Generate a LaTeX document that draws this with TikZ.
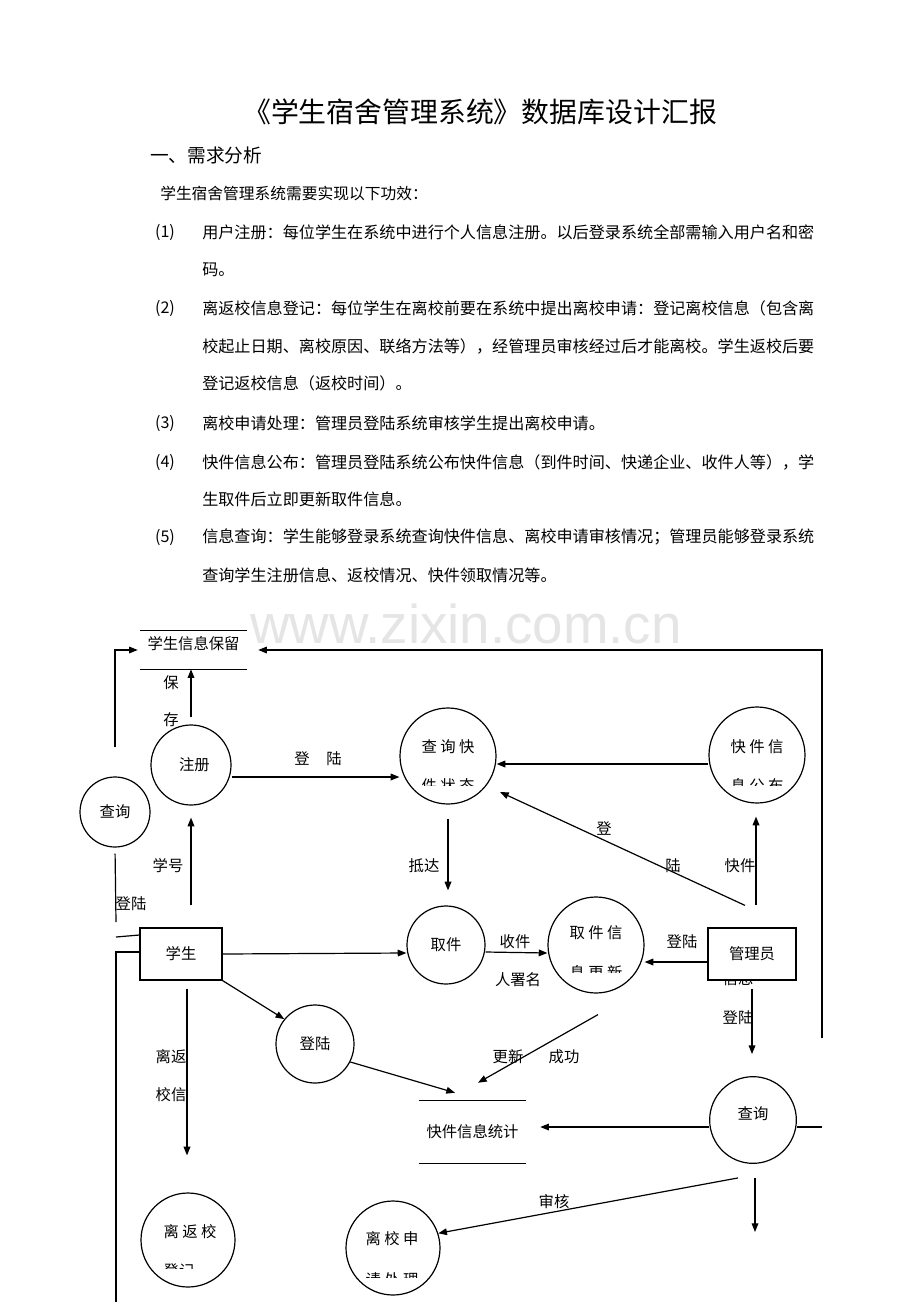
\documentclass[tikz,border=0pt]{standalone}
\usepackage{fontspec}
\setmainfont{Noto Sans CJK SC}
\newfontfamily\wmfont{Liberation Sans}
\usetikzlibrary{arrows.meta}
\XeTeXlinebreaklocale "zh"
\XeTeXlinebreakskip=0pt plus 1pt minus 0.5pt
\newcommand{\fullline}[1]{\makebox[459pt][s]{#1}}
\tikzset{
  txt/.style={anchor=west, inner sep=0pt, font=\fontsize{12.08}{14}\selectfont},
  proc/.style={draw, circle, inner sep=0pt, line width=0.9pt, font=\fontsize{11.5}{13}\selectfont},
  ent/.style={draw, fill=white, rectangle, inner sep=0pt, line width=0.9pt, minimum height=39pt, font=\fontsize{11.5}{13}\selectfont},
  store/.style={inner sep=0pt, minimum width=80.25pt, font=\fontsize{11.5}{13}\selectfont},
  lbl/.style={inner sep=0pt, font=\fontsize{11.5}{13}\selectfont},
  arr/.style={-{Triangle[length=6.5pt,width=5pt]}, line width=0.9pt},
  wm/.style={inner sep=0pt, text=black!10, font=\wmfont\fontsize{41}{45}\selectfont},
}
\begin{document}
\begin{tikzpicture}[x=0.75pt,y=-0.75pt]
\useasboundingbox (0,0) rectangle (920,1302);
\fill[white] (0,0) rectangle (920,1302);

% watermark
\node[wm, anchor=base west] (wmark) at (250,643) {www.zixin.com.cn};

% heading and text
\node[inner sep=0pt, font=\fontsize{20.9}{24}\selectfont] (title) at (480,112) {《学生宿舍管理系统》数据库设计汇报};
\node[txt, font=\fontsize{14}{16}\selectfont] (sec1) at (150,155) {一、需求分析};
\node[txt, font=\fontsize{11.8}{14}\selectfont] (intro) at (160,193) {学生宿舍管理系统需要实现以下功效：};
\foreach \n/\y in {1/232, 2/308, 3/423, 4/462, 5/537}{
  \node[inner sep=0pt, font=\fontsize{12.08}{14}\selectfont] (num\n) at (165,\y) {(\n)};
}
\node[txt] (l1a) at (202,232) {\fullline{用户注册：每位学生在系统中进行个人信息注册。以后登录系统全部需输入用户名和密}};
\node[txt] (l1b) at (202,270) {码。};
\node[txt] (l2a) at (202,308) {\fullline{离返校信息登记：每位学生在离校前要在系统中提出离校申请：登记离校信息（包含离}};
\node[txt] (l2b) at (202,346) {\fullline{校起止日期、离校原因、联络方法等），经管理员审核经过后才能离校。学生返校后要}};
\node[txt] (l2c) at (202,383) {登记返校信息（返校时间）。};
\node[txt] (l3) at (202,423) {离校申请处理：管理员登陆系统审核学生提出离校申请。};
\node[txt] (l4a) at (202,462) {\fullline{快件信息公布：管理员登陆系统公布快件信息（到件时间、快递企业、收件人等），学}};
\node[txt] (l4b) at (202,499) {生取件后立即更新取件信息。};
\node[txt] (l5a) at (202,537) {\fullline{信息查询：学生能够登录系统查询快件信息、离校申请审核情况；管理员能够登录系统}};
\node[txt] (l5b) at (202,575) {查询学生注册信息、返校情况、快件领取情况等。};

% data stores
\node[store, minimum height=28.5pt, text height=8pt, text depth=9pt] (store1) at (193.5,650) {学生信息保留};
\node[store, minimum height=46.5pt] (tj) at (472.5,1132) {快件信息统计};
\draw[line width=0.8pt] (store1.north west) -- (store1.north east) (store1.south west) -- (store1.south east);
\draw[line width=0.8pt] (tj.north west) -- (tj.north east) (tj.south west) -- (tj.south east);

% processes
\node[proc, minimum size=60pt] (zc) at (191,765) {\hspace{5pt}注册};
\node[proc, minimum size=72pt] (cx) at (448,756) {};
\node[proc, minimum size=72pt] (kg) at (757,755) {};
\node[proc, minimum size=52.5pt] (qxL) at (115,812) {查询};
\node[proc, minimum size=58.5pt] (qj) at (446,945) {取件};
\node[proc, minimum size=72pt] (gx) at (596,945) {};
\node[proc, minimum size=58.5pt] (dl) at (315,1044) {登陆};
\node[proc, minimum size=65pt] (qxR) at (753,1120) {};
\node[proc, minimum size=70.5pt] (lf) at (188,1240) {};
\node[proc, minimum size=70.5pt] (lxs) at (393,1248) {};
\node[lbl] (qxRt) at (753,1114) {查询};
\node[lbl] (cxt) at (448,747) {查 询 快};
\node[lbl] (kgt) at (757,747) {快 件 信};
\node[lbl] (gxt) at (596,933) {取 件 信};
\node[lbl] (lft) at (190,1232) {离 返 校};
\node[lbl] (lxst) at (392,1239) {离 校 申};
\foreach \x/\y/\c/\t [count=\i] in {448/786/785/件 状 态, 757/786/785/息 公 布, 596/973/972/息 更 新, 179/1271/1268/登记, 392/1280/1277/请 处 理}{
  \begin{scope}
    \clip (\x-45,\c-20) rectangle (\x+45,\c);
    \node[lbl] (cut\i) at (\x,\y) {\t};
  \end{scope}
}

% external entities
\node[lbl] (xx) at (738,979) {信息};
\node[ent, minimum width=61.5pt] (st) at (181,954) {学生};
\node[ent, minimum width=66pt] (gly) at (752,954) {管理员};

% flows
\coordinate (rloop) at (822,1038);
\coordinate (rstub) at (822,1127);
\coordinate (lft1) at (116,922);
\coordinate (lft2) at (116,937);
\coordinate (lft3) at (116,1302);
\coordinate (qdown) at (755,1232);
\draw[arr, shorten <=21.75pt, shorten >=1.5pt] (qxL.north) |- (store1.west);
\draw[arr, shorten >=8.25pt] (rloop) |- (store1.east);
\draw[arr, shorten <=5.25pt] (zc.north) -- (zc.north |- store1.south);
\draw[arr] ([yshift=-9pt]zc.east) -- ([yshift=-9pt]zc.east -| cx.west);
\draw[arr, shorten <=16.5pt, shorten >=9pt] (zc.south |- st.north) -- (zc.south);
\draw[line width=0.9pt, shorten <=4.5pt] (qxL.south) -- (lft1);
\draw[line width=0.9pt] (lft2) -- ([yshift=14.25pt]st.west);
\draw[line width=0.9pt] ([yshift=1.5pt]st.west) -| (lft3);
\draw[arr, shorten <=10.5pt, shorten >=11.25pt] (cx.south) -- (cx.south |- qj.north);
\draw[arr] ([yshift=-6.75pt]kg.west) -- ([yshift=-6.75pt]kg.west -| cx.east);
\draw[arr] ([shift={(-7,-22)}]gly.north) -- ([shift={(52,36)}]cx.center);
\draw[arr] ([shift={(4,-22)}]gly.north) -- ([shift={(-1,13)}]kg.south);
\draw[arr] (st.east) -- ([yshift=-6pt]qj.west);
\draw[arr] ([yshift=-5.25pt]qj.east) -- ([yshift=-6pt]gx.west);
\draw[arr] ([yshift=-6pt]gly.west) -- ([yshift=-6pt]gly.west -| gx.east);
\draw[arr, shorten <=6pt, shorten >=16.5pt] (gly.south) -- (gly.south |- qxR.north);
\draw[arr, shorten >=10.5pt] ([yshift=-5.25pt]qxR.west) -- ([yshift=-5.25pt]qxR.west -| tj.east);
\draw[line width=0.9pt] ([yshift=-5.25pt]qxR.east) -- (rstub);
\draw[arr] ([shift={(2,21)}]gx.south) -- ([shift={(5.5,-18)}]tj.north);
\draw[arr] (st.south east) -- (dl.141);
\draw[arr] (dl.-27) -- ([shift={(-17.5,-8)}]tj.north);
\draw[arr] ([shift={(6,8)}]st.south) -- ([shift={(-1,-37)}]lf.north);
\draw[arr] ([shift={(-15,14)}]qxR.south) -- (lxs.18);
\draw[arr, shorten <=10.5pt] (qxR.south -| qdown) -- (qdown);

% flow labels
\node[lbl] (bao) at (171,683) {保};
\node[lbl] (cun) at (171,720) {存};
\node[lbl] (dlzc) at (318,759) {登\hspace{12.5pt}陆};
\node[lbl] (xh) at (168,866) {学号};
\node[lbl] (dlL) at (131,904) {登陆};
\node[lbl] (dd) at (424,866) {抵达};
\node[lbl] (deng) at (604,828) {登};
\node[lbl] (lu) at (673,866) {陆};
\node[lbl] (kj) at (740,866) {快件};
\node[lbl] (sj) at (515,942) {收件};
\node[lbl] (rsm) at (518,980) {人署名};
\node[lbl] (dlg) at (682,942) {登陆};
\node[lbl] (dlq) at (738,1018) {登陆};
\node[lbl] (gxl) at (508,1057) {更新};
\node[lbl] (cg) at (564,1057) {成功};
\node[lbl] (lfl1) at (171,1057) {离返};
\node[lbl] (lfl2) at (171,1095) {校信};
\node[lbl] (sh) at (554,1202) {审核};
\end{tikzpicture}
\end{document}
